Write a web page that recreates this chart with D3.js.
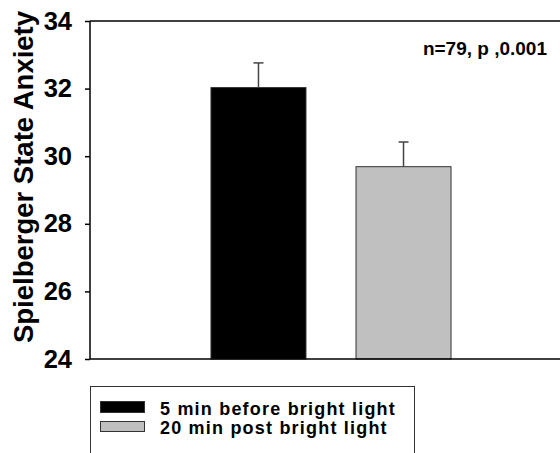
<!DOCTYPE html>
<html><head><meta charset="utf-8">
<script src="https://cdn.jsdelivr.net/npm/d3@7"></script>
<style>body{margin:0;background:#fff}svg{display:block;font-family:"Liberation Sans",Arial,sans-serif;font-weight:bold}</style>
</head><body>
<script>
const categories = ["5 min before bright light", "20 min post bright light"];
const means = [32.03, 29.69];
const errors = [0.73, 0.73];
const yTicks = [24, 26, 28, 30, 32, 34];
const fills = ["#000000", "#c0c0c0"];
const annotation = "n=79, p ,0.001";
const yTitle = "Spielberger State Anxiety";

const W = 560, H = 453;
const svg = d3.select("body").append("svg").attr("width", W).attr("height", H);

const x = d3.scaleBand().domain(categories).range([90, 572]).paddingInner(0.345).paddingOuter(0.834);
const y = d3.scaleLinear().domain([24, 34]).range([359, 21]);

// bars
svg.selectAll("rect.bar").data(categories).join("rect")
  .attr("class", "bar")
  .attr("x", d => x(d)).attr("width", x.bandwidth())
  .attr("y", (d, i) => y(means[i])).attr("height", (d, i) => y(24) - y(means[i]))
  .attr("fill", (d, i) => fills[i])
  .attr("stroke", "#333").attr("stroke-width", 1);

// error bars
const eb = svg.append("g").attr("stroke", "#444").attr("stroke-width", 1.5);
categories.forEach((c, i) => {
  const cx = x(c) + x.bandwidth() / 2;
  eb.append("line").attr("x1", cx).attr("x2", cx).attr("y1", y(means[i])).attr("y2", y(means[i] + errors[i]));
  eb.append("line").attr("x1", cx - 5).attr("x2", cx + 5).attr("y1", y(means[i] + errors[i])).attr("y2", y(means[i] + errors[i]));
});

// y axis
const ya = svg.append("g").attr("transform", "translate(90,0)")
  .call(d3.axisLeft(y).tickValues(yTicks).tickSize(5).tickPadding(13).tickFormat(d3.format("d")));
ya.attr("font-family", null).attr("font-size", null);
ya.select(".domain").attr("stroke", "#000").attr("stroke-width", 1.5).attr("d", "M0,21V359");
ya.selectAll(".tick line").attr("stroke", "#000").attr("stroke-width", 1.5);
ya.selectAll(".tick text").attr("font-size", 25.5).attr("font-weight", "bold").attr("fill", "#000");

// x axis baseline and top frame
svg.append("line").attr("x1", 90).attr("x2", 572).attr("y1", y(24)).attr("y2", y(24)).attr("stroke", "#000").attr("stroke-width", 1.5);
svg.append("line").attr("x1", 90).attr("x2", 572).attr("y1", y(34)).attr("y2", y(34)).attr("stroke", "#000").attr("stroke-width", 1.5);

// y title
svg.append("text").attr("transform", "translate(33,177) rotate(-90)")
  .attr("text-anchor", "middle").attr("font-size", 27.5).text(yTitle);

// annotation
svg.append("text").attr("x", 547).attr("y", 55).attr("text-anchor", "end").attr("font-size", 19).text(annotation);

// legend
const lg = svg.append("g");
lg.append("rect").attr("x", 90.5).attr("y", 386.5).attr("width", 324).attr("height", 80)
  .attr("fill", "none").attr("stroke", "#333").attr("stroke-width", 1);
categories.forEach((c, i) => {
  const by = [415, 434][i];
  lg.append("rect").attr("x", 100.5).attr("y", by - (i === 0 ? 13.5 : 12.5)).attr("width", 44).attr("height", i === 0 ? 11 : 10)
    .attr("fill", fills[i]).attr("stroke", "#333").attr("stroke-width", 1);
  lg.append("text").attr("x", 160).attr("y", by).attr("font-size", 18).attr("letter-spacing", 1.2).text(c);
});
</script>
</body></html>
